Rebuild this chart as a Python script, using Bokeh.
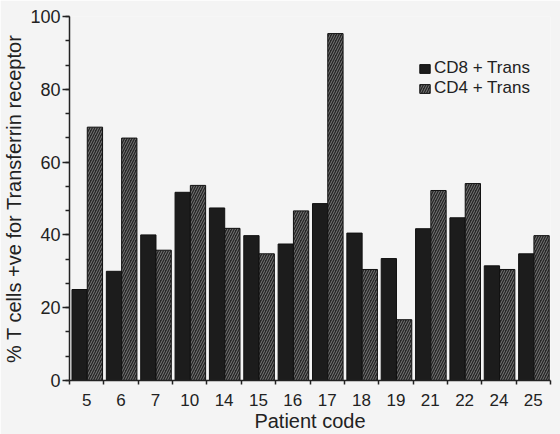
from bokeh.plotting import figure
from bokeh.models import Range1d, FixedTicker, SingleIntervalTicker, ColumnDataSource, Legend, LegendItem
from bokeh.embed import file_html
from bokeh.resources import INLINE

patients = ["5", "6", "7", "10", "14", "15", "16", "17", "18", "19", "21", "22", "24", "25"]
cd8_trans = [25, 30, 40, 51.7, 47.4, 39.8, 37.5, 48.6, 40.5, 33.5, 41.7, 44.7, 31.5, 34.8]
cd4_trans = [69.6, 66.6, 35.8, 53.6, 41.8, 34.8, 46.6, 95.3, 30.5, 16.7, 52.2, 54.1, 30.5, 39.8]
y_ticks = [0, 20, 40, 60, 80, 100]

idx = list(range(len(patients)))
src = ColumnDataSource(dict(
    x8=[i + 0.295 for i in idx],
    x4=[i + 0.74 for i in idx],
    cd8=cd8_trans,
    cd4=cd4_trans,
))

BG = "#f4f4f4"
INK = "#222222"
FONT = "Liberation Sans"

p = figure(width=560, height=434, output_backend="svg", toolbar_location=None,
           x_range=Range1d(0, len(patients)), y_range=Range1d(0, 100),
           min_border_left=67, min_border_right=10, min_border_top=16, min_border_bottom=52)
p.background_fill_color = BG
p.border_fill_color = BG
p.outline_line_color = None
p.grid.visible = False

r8 = p.vbar(x="x8", top="cd8", width=0.445, bottom=0, source=src,
            fill_color="#1c1c1c", line_color="#111111", line_width=1)
r4 = p.vbar(x="x4", top="cd4", width=0.445, bottom=0, source=src,
            fill_color="#262626", line_color="#111111", line_width=1,
            hatch_pattern="/", hatch_color="#959595", hatch_scale=5, hatch_weight=0.75)

# x axis: labels at category centres, ticks at category boundaries
xa = p.xaxis[0]
xa.ticker = FixedTicker(ticks=[i + 0.5 for i in idx], minor_ticks=list(range(len(patients) + 1)))
xa.major_label_overrides = {i + 0.5: lab for i, lab in zip(idx, patients)}
xa.major_tick_out = 0
xa.major_tick_in = 0
xa.minor_tick_out = 4
xa.minor_tick_in = 0
xa.minor_tick_line_color = INK
xa.minor_tick_line_width = 1.5
xa.axis_line_color = INK
xa.axis_line_width = 1.5
xa.major_label_standoff = 9
xa.major_label_text_font = FONT
xa.major_label_text_font_size = "17px"
xa.major_label_text_color = INK
xa.axis_label = "Patient code"
xa.axis_label_text_font = FONT
xa.axis_label_text_font_style = "normal"
xa.axis_label_text_font_size = "20px"
xa.axis_label_text_color = INK
xa.axis_label_standoff = 1

ya = p.yaxis[0]
ya.ticker = SingleIntervalTicker(interval=20, num_minor_ticks=3)
ya.major_tick_out = 7
ya.major_tick_in = 0
ya.minor_tick_out = 4
ya.minor_tick_in = 0
ya.major_tick_line_color = INK
ya.minor_tick_line_color = INK
ya.major_tick_line_width = 1.5
ya.minor_tick_line_width = 1.5
ya.axis_line_color = INK
ya.axis_line_width = 1.5
ya.major_label_standoff = 2
ya.major_label_text_font = FONT
ya.major_label_text_font_size = "18px"
ya.major_label_text_color = INK
ya.axis_label = "% T cells +ve for Transferrin receptor"
ya.axis_label_text_font = FONT
ya.axis_label_text_font_style = "normal"
ya.axis_label_text_font_size = "20px"
ya.axis_label_text_color = INK
ya.axis_label_standoff = 2

legend = Legend(items=[LegendItem(label="CD8 + Trans", renderers=[r8]),
                       LegendItem(label="CD4 + Trans", renderers=[r4])],
                location=(349, 282))
legend.background_fill_alpha = 0
legend.border_line_color = None
legend.padding = 0
legend.margin = 0
legend.spacing = 0
legend.glyph_width = 13
legend.glyph_height = 11
legend.label_height = 12
legend.label_standoff = 3
legend.label_text_font = FONT
legend.label_text_font_size = "17px"
legend.label_text_color = INK
p.add_layout(legend)

open("out.html", "w").write(file_html(p, INLINE))
